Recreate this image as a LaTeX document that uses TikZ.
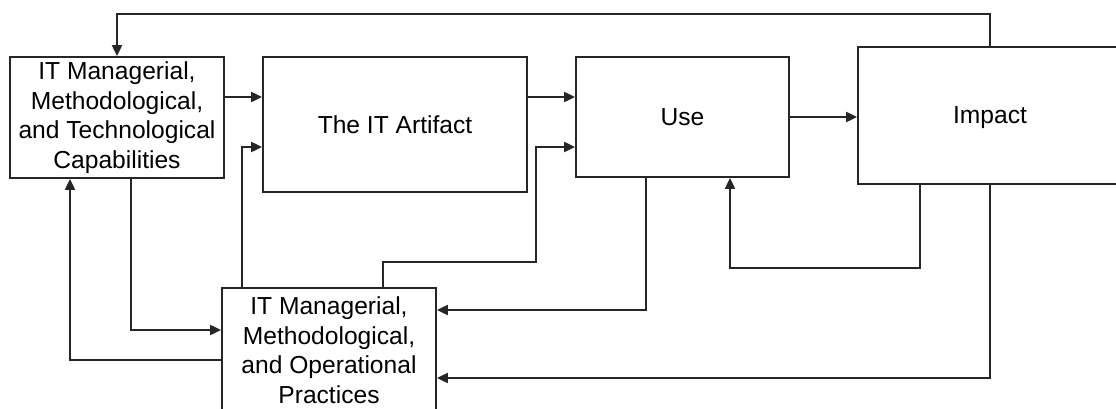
\documentclass[tikz,border=0pt]{standalone}
\usepackage{fontspec}
\setmainfont{Liberation Sans}
\usetikzlibrary{arrows.meta}
\begin{document}
\begin{tikzpicture}[x=1pt,y=-1pt,
  blockbox/.style={draw=black!85,line width=1.8pt,inner sep=0pt,align=center,
    font=\fontsize{24.6}{29.5}\selectfont},
  arr/.style={draw=black!85,line width=2pt,
    -{Triangle[length=11pt,width=10pt]}}]
\clip (0,0) rectangle (1116,408);
\useasboundingbox (0,0) rectangle (1116,408);

\node[blockbox,minimum width=214pt,minimum height=121pt] (cap) at (117,117.5)
  {IT Managerial,\\Methodological,\\and Technological\\Capabilities};
\node[blockbox,minimum width=264pt,minimum height=135pt] (art) at (395,124.5)
  {The IT Artifact};
\node[blockbox,minimum width=213pt,minimum height=120pt] (use) at (682.5,117)
  {Use};
\node[blockbox,minimum width=264pt,minimum height=137pt,text depth=0pt] (imp) at (990,115.5)
  {Impact};
\node[blockbox,minimum width=214pt,minimum height=124pt] (prac) at (329,350)
  {IT Managerial,\\Methodological,\\and Operational\\Practices};

% forward flow
\draw[arr] (cap.east |- 0,97) -- (art.west |- 0,97);
\draw[arr] (art.east |- 0,97) -- (use.west |- 0,97);
\draw[arr] (use.east |- 0,117) -- (imp.west |- 0,117);

% practices feeding artifact and use
\draw[arr] (prac.north -| 242,0) |- (art.west |- 0,147);
\draw[arr] (prac.north -| 383,0) |- (536,262) |- (use.west |- 0,147);

% feedback loops
\draw[arr] (imp.north -| 990,0) |- (117,14) -- (cap.north -| 117,0);
\draw[arr] (imp.south -| 920,0) |- (730,268) -- (use.south -| 730,0);
\draw[arr] (use.south -| 646,0) |- (prac.east |- 0,310);
\draw[arr] (imp.south -| 990,0) |- (prac.east |- 0,378);
\draw[arr] (cap.south -| 131,0) |- (prac.west |- 0,330);
\draw[arr] (prac.west |- 0,360) -| (cap.south -| 70,0);
\end{tikzpicture}
\end{document}
